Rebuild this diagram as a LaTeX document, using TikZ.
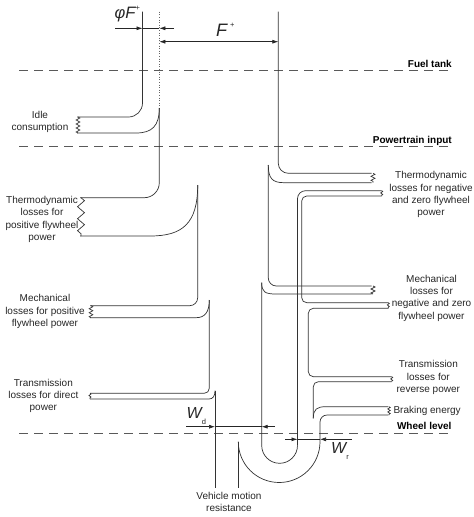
\documentclass[tikz,border=0pt]{standalone}
\usepackage{fontspec}
\setmainfont{Liberation Sans}
\usetikzlibrary{arrows.meta,decorations.pathmorphing}

\tikzset{
  flow/.style={line width=0.7pt, draw=black!80},
  level/.style={line width=0.7pt, draw=black!65, dash pattern=on 9pt off 6pt},
  tear/.style 2 args={flow, decorate, decoration={zigzag, segment length=#1, amplitude=#2}},
  dim/.style={line width=0.6pt, draw=black!85},
  lab/.style={align=center, inner sep=0pt, text=black!85, font=\fontsize{10}{12.3}\selectfont},
  levellab/.style={anchor=base east, inner sep=0pt, font=\bfseries\fontsize{10}{12}\selectfont},
  sym/.style={anchor=base west, inner sep=0pt, text=black!85},
}
\newcommand\supsign[1]{\raisebox{1.0ex}{\upshape\fontsize{7.5}{7.5}\selectfont #1}}
\newcommand\subsign[1]{\raisebox{-6pt}{\upshape\fontsize{7.5}{7.5}\selectfont #1}}

\begin{document}
\begin{tikzpicture}[x=1pt, y=-1pt, >={Latex[length=6pt,width=4pt]}]
            \useasboundingbox (0,0) rectangle (474,517);
            % levels
            \draw[level] (19,70.7) -- (452,70.7);
            \draw[level] (19,146.7) -- (452,146.7);
            \draw[level] (19,433) -- (452,433);
            \node[levellab] (fuel) at (452,67.8) {Fuel tank};
            \node[levellab] (ptin) at (452,143) {Powertrain input};
            \node[levellab] (wheel) at (451.7,429.5) {Wheel level};
            % fuel input and forward losses (left)
            \draw[flow, rounded corners=14pt] (142.5,11.7) -- (142.5,117) -- (77,117);
            \draw[black!60, dotted, line width=0.6pt] (159.3,11.7) -- (159.3,108);
            \draw[flow] (77,133) -- (136,133) .. controls (152,133) and (159.3,126) .. (159.3,108);
            \draw[tear={4pt}{1.8pt}] (78,117) -- (78,133);
            \draw[flow, rounded corners=15pt] (159.3,108) -- (159.3,197.7) -- (80,197.7);
            \draw[flow] (80,236) -- (150,236) .. controls (182,236) and (197.7,224) .. (197.7,185);
            \draw[tear={12pt}{3.5pt}] (81,197.7) -- (81,236);
            \draw[flow, rounded corners=8pt] (197.7,185) -- (197.7,305.7) -- (90,305.7);
            \draw[flow] (90,317.7) -- (196,317.7) .. controls (205,317.7) and (209.3,312) .. (209.3,300);
            \draw[tear={4pt}{1.8pt}] (91,305.7) -- (91,317.7);
            \draw[flow, rounded corners=5pt] (209.3,300) -- (209.3,393.3) -- (90,393.3);
            \draw[flow] (90,399) -- (209,399) .. controls (213,399) and (215,396) .. (215,390.7);
            \draw[tear={3pt}{1pt}] (90,393.3) -- (90,399);
            \draw[flow] (215,390.7) -- (215,488);
            \draw[flow] (238.3,441.7) -- (238.3,488);
            % fuel input and forward losses (right)
            \draw[flow, rounded corners=10pt] (278.3,11.7) -- (278.3,173.3) -- (371.7,173.3);
            \draw[flow] (268.3,165) .. controls (268.3,178) and (272,182.7) .. (284,182.7) -- (371.7,182.7);
            \draw[tear={4pt}{2pt}] (373,173.3) -- (373,182.7);
            \draw[flow, rounded corners=8pt] (268.3,165) -- (268.3,286) -- (371.7,286);
            \draw[flow] (261.7,282.7) .. controls (261.7,292) and (265,294) .. (276,294) -- (371.7,294);
            \draw[tear={4pt}{2pt}] (373,286) -- (373,294);
            % recuperation loop
            \draw[flow] (261.7,282.7) -- (261.7,445.4)
                .. controls (261.7,455.3) and (269.7,463.3) .. (279.6,463.3)
                .. controls (289.5,463.3) and (297.5,455.3) .. (297.5,445.4);
            \draw[flow, rounded corners=8pt] (297.5,445.4) -- (297.5,190.7) -- (381.7,190.7);
            \draw[flow, rounded corners=5pt] (381.7,196) -- (301.7,196) -- (301.7,302.7) -- (388.3,302.7);
            \draw[tear={3pt}{1pt}] (381.7,190.7) -- (381.7,196);
            \draw[flow, rounded corners=5pt] (388.3,308.3) -- (308.3,308.3) -- (308.3,376.7) -- (391.7,376.7);
            \draw[tear={3pt}{1pt}] (388.3,302.7) -- (388.3,308.3);
            \draw[flow, rounded corners=5pt] (391.7,381.7) -- (313.3,381.7) -- (313.3,418.3);
            \draw[tear={3pt}{1pt}] (391.7,376.7) -- (391.7,381.7);
            \draw[flow] (313.3,418.3) .. controls (313.3,409) and (317,406.7) .. (326,406.7) -- (388.3,406.7);
            \draw[flow] (238.3,441.7)
                .. controls (238.3,464.3) and (256.6,482.5) .. (279.2,482.5)
                .. controls (301.7,482.5) and (320,464.3) .. (320,441.7);
            \draw[flow, rounded corners=7pt] (320,441.7) -- (320,415) -- (388.3,415);
            \draw[tear={3pt}{1.2pt}] (389,406.7) -- (389,415);
            % dimensions
            \draw[dim,->] (115,28.3) -- (142.5,28.3);
            \draw[dim] (142.5,28.3) -- (159.3,28.3);
            \draw[dim,->] (174,28.3) -- (159.3,28.3);
            \draw[dim,<->] (159.3,41.7) -- (278.3,41.7);
            \draw[dim,->] (186,426.7) -- (215,426.7);
            \draw[dim] (215,426.7) -- (261.7,426.7);
            \draw[dim,->] (275,426.7) -- (261.7,426.7);
            \draw[dim,->] (285,439.3) -- (297.5,439.3);
            \draw[dim] (297.5,439.3) -- (320,439.3);
            \draw[dim,->] (351.7,439.3) -- (320,439.3);
            \node[sym, font=\itshape\fontsize{16.5}{16.5}\selectfont] (phiF) at (114.5,18.8) {φF\supsign{+}};
            \node[sym, font=\itshape\fontsize{18}{18}\selectfont] (Fplus) at (216,36.7) {F\,\supsign{+}};
            \node[sym, font=\itshape\fontsize{16}{16}\selectfont] (Wd) at (186.5,418.3) {W\subsign{d}};
            \node[sym, font=\itshape\fontsize{16}{16}\selectfont] (Wr) at (331,453.3) {W\subsign{r}};
            % labels
            \node[lab] (idle) at (40,122) {Idle\\consumption};
            \node[lab] (thermpos) at (42,219.5) {Thermodynamic\\losses for\\positive flywheel\\power};
            \node[lab] (mechpos) at (45,311.5) {Mechanical\\losses for positive\\flywheel power};
            \node[lab] (transdir) at (43.3,396) {Transmission\\losses for direct\\power};
            \node[lab] (thermneg) at (431,194.7) {Thermodynamic\\losses for negative\\and zero flywheel\\power};
            \node[lab] (mechneg) at (431.5,298) {Mechanical\\losses for\\negative and zero\\flywheel power};
            \node[lab] (transrev) at (428.3,377.7) {Transmission\\losses for\\reverse power};
            \node[lab, anchor=west] (braking) at (393.3,410.7) {Braking energy};
            \node[lab] (vehicle) at (229,502) {Vehicle motion\\resistance};
        \end{tikzpicture}
\end{document}
